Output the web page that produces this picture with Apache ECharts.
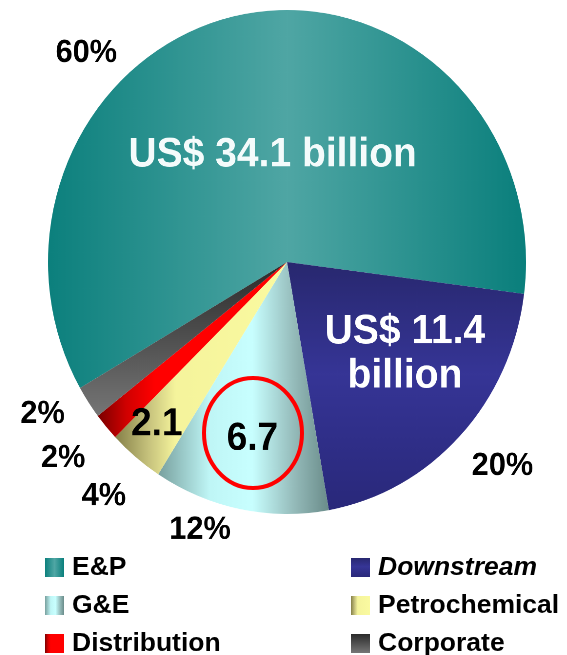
<!DOCTYPE html>
<html>
<head>
<meta charset="utf-8">
<script src="https://cdn.jsdelivr.net/npm/echarts@6/dist/echarts.min.js"></script>
<style>
  html, body { margin: 0; padding: 0; background: #ffffff; }
  .layer { position: absolute; left: 0; top: 0; width: 567px; height: 655px; }
  /* the pie is drawn slightly taller than wide */
  #pie { transform-origin: 287px 262px; transform: scale(0.9755, 1.0286); }
</style>
</head>
<body>
<div id="pie" class="layer"></div>
<div id="keys" class="layer"></div>
<script>
// Segments, amounts in US$ billion
const segments = ['E&P', 'Downstream', 'G&E', 'Petrochemical', 'Distribution', 'Corporate'];
const amounts = [34.1, 11.4, 6.7, 2.1, 1.0, 1.2];
// Text written inside each slice
const amountLabels = ['US$ 34.1 billion', 'US$ 11.4\nbillion', '6.7', '2.1', '', ''];

const leftLegend = ['E&P', 'G&E', 'Distribution'];
const rightLegend = ['Downstream', 'Petrochemical', 'Corporate'];

const FONT = 'Liberation Sans, Arial, sans-serif';

function lin(x2, y2, stops) {
  return {
    type: 'linear', x: 0, y: 0, x2: x2, y2: y2,
    colorStops: stops.map(s => ({ offset: s[0], color: s[1] }))
  };
}

const fills = [
  lin(1, 0, [[0, '#0c807d'], [0.5, '#4fa6a4'], [1, '#0a7f7c']]),
  lin(0, 1, [[0, '#28286f'], [0.45, '#363596'], [1, '#29287a']]),
  lin(1, 0, [[0, '#78a09e'], [0.3, '#bff6f6'], [0.55, '#c8ffff'], [0.8, '#94bab9'], [1, '#6a8c8a']]),
  lin(1, 0, [[0, '#858048'], [0.2, '#c8c47e'], [0.35, '#f5f49c'], [1, '#fafaa0']]),
  lin(1, 0, [[0, '#7a0000'], [0.15, '#d00000'], [0.3, '#ff0000'], [1, '#ff0000']]),
  lin(0, 1, [[0, '#2a2a2a'], [1, '#767676']])
];
const insideColors = ['#f4fbfb', '#ffffff', '#000000', '#000000', '#000000', '#000000'];
const insideSizes = [40, 40, 38, 38, 38, 38];
// label nudges (px) from the library's default positions
const insideShift = [[10, 19], [30, 3], [-11, 49], [-54, 61], [0, 0], [0, 0]];
const pctShift = [[-147, 89], [5, -7], [-31, -32], [1, -3], [-4, -4], [-3, -18]];

const CX = 287, CY = 262, R = 245, START = 210;

const mainData = segments.map((name, i) => ({
  name: name,
  value: amounts[i],
  itemStyle: { color: fills[i] },
  label: {
    show: amountLabels[i] !== '',
    formatter: amountLabels[i],
    color: insideColors[i],
    fontSize: insideSizes[i],
    lineHeight: 43
  }
}));

const ringData = segments.map((name, i) => ({ name: name, value: amounts[i] }));

const pie = echarts.init(document.getElementById('pie'), null, { renderer: 'canvas', devicePixelRatio: 2 });
pie.setOption({
  animation: false,
  textStyle: { fontFamily: FONT, fontWeight: 'bold' },
  series: [
    {
      type: 'pie',
      center: [CX, CY],
      radius: [0, R],
      startAngle: START,
      clockwise: true,
      avoidLabelOverlap: false,
      silent: true,
      data: mainData,
      label: { position: 'inside', fontFamily: FONT, fontWeight: 'bold' },
      labelLine: { show: false },
      labelLayout: p => ({ dx: insideShift[p.dataIndex][0], dy: insideShift[p.dataIndex][1] })
    },
    {
      // transparent ring carrying the percentage labels
      type: 'pie',
      center: [CX, CY],
      radius: [R, R + 100],
      startAngle: START,
      clockwise: true,
      avoidLabelOverlap: false,
      silent: true,
      percentPrecision: 0,
      data: ringData,
      itemStyle: { color: 'rgba(0,0,0,0)' },
      label: {
        position: 'inside',
        formatter: '{d}%',
        color: '#000',
        fontSize: 31.5,
        fontFamily: FONT,
        fontWeight: 'bold'
      },
      labelLine: { show: false },
      labelLayout: p => ({ dx: pctShift[p.dataIndex][0], dy: pctShift[p.dataIndex][1] })
    }
  ]
});

// Legend and the highlight ring, drawn unscaled on top
function legendBlock(names, left) {
  return {
    data: names,
    orient: 'vertical',
    left: left,
    top: 554,
    width: 215,
    height: 140,
    padding: 0,
    itemWidth: 19,
    itemHeight: 19,
    itemGap: 11,
    icon: 'rect',
    selectedMode: false,
    formatter: n => n === 'Downstream' ? '{i|' + n + '}' : n,
    textStyle: {
      fontFamily: FONT,
      fontWeight: 'bold',
      fontSize: 26.5,
      lineHeight: 26,
      color: '#000',
      padding: [0, 0, 0, 3],
      rich: {
        i: { fontStyle: 'italic', fontWeight: 'bold', fontSize: 26.5, lineHeight: 26,
             color: '#000', fontFamily: FONT }
      }
    }
  };
}

const keys = echarts.init(document.getElementById('keys'), null, { renderer: 'canvas' });
keys.setOption({
  animation: false,
  legend: [legendBlock(leftLegend, 45), legendBlock(rightLegend, 351)],
  series: [
    {
      // legend source: same segments and fills, not drawn
      type: 'pie',
      center: [CX, CY],
      radius: [0, 0],
      silent: true,
      label: { show: false },
      labelLine: { show: false },
      data: segments.map((name, i) => ({ name: name, value: amounts[i], itemStyle: { color: fills[i] } }))
    }
  ],
  graphic: [
    {
      type: 'ellipse',
      shape: { cx: 253, cy: 433, rx: 49, ry: 55 },
      style: { fill: 'none', stroke: '#ff0000', lineWidth: 4 },
      z: 100
    }
  ]
});
</script>
</body>
</html>
